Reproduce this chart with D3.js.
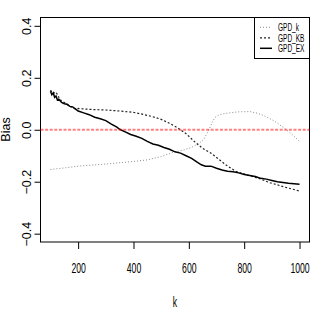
<!DOCTYPE html>
<html>
<head>
<meta charset="utf-8">
<script src="https://cdn.jsdelivr.net/npm/d3@7"></script>
<style>
  body { margin: 0; background: #fff; }
  text { font-family: "Liberation Sans", Arial, sans-serif; fill: #000; }
</style>
</head>
<body>
<svg id="chart"></svg>
<script>
// values
const kEX = [100,105,110,115,120,125,130,140,150,160,170,180,190,200,220,240,260,280,300,320,340,350,370,390,410,430,450,470,490,510,530,550,570,590,610,630,645,660,680,700,720,740,760,780,800,820,840,860,880,900,920,940,960,980,1000];
const biasEX = [0.148,0.135,0.142,0.125,0.13,0.115,0.118,0.105,0.1,0.098,0.09,0.088,0.08,0.072,0.065,0.058,0.048,0.042,0.035,0.022,0.01,0.002,-0.008,-0.018,-0.025,-0.033,-0.045,-0.055,-0.06,-0.068,-0.075,-0.085,-0.09,-0.1,-0.11,-0.125,-0.135,-0.14,-0.14,-0.148,-0.155,-0.16,-0.162,-0.166,-0.172,-0.176,-0.18,-0.187,-0.19,-0.195,-0.2,-0.203,-0.206,-0.208,-0.21];

const kKB = [100,110,120,130,140,150,160,170,180,190,200,220,250,300,350,400,440,470,500,530,560,590,620,650,680,710,740,770,800,830,860,890,920,950,980,1000];
const biasKB = [0.152,0.14,0.145,0.125,0.11,0.105,0.098,0.09,0.085,0.08,0.082,0.08,0.078,0.076,0.072,0.067,0.058,0.05,0.04,0.025,0.007,-0.015,-0.045,-0.072,-0.09,-0.115,-0.14,-0.16,-0.17,-0.18,-0.19,-0.203,-0.212,-0.222,-0.23,-0.236];

const kK = [100,150,200,300,400,450,500,540,580,610,640,655,665,675,685,695,710,740,780,820,850,880,910,940,970,1000];
const biasK = [-0.153,-0.147,-0.14,-0.132,-0.122,-0.116,-0.103,-0.088,-0.078,-0.068,-0.05,-0.035,-0.015,0.005,0.03,0.048,0.058,0.064,0.069,0.07,0.063,0.05,0.033,0.01,-0.015,-0.045];

const xTicks = [200, 400, 600, 800, 1000];
const yTicks = [-0.4, -0.2, 0, 0.2, 0.4];
const legendNames = ["GPD_k", "GPD_KB", "GPD_EX"];

const width = 320, height = 327;
const svg = d3.select("#chart").attr("width", width).attr("height", height);

// R style: domain padded by 4%
const x = d3.scaleLinear().domain([64, 1036]).range([40.5, 309.5]);
const y = d3.scaleLinear().domain([-0.432, 0.432]).range([242, 17.5]);

// plot box
svg.append("rect")
  .attr("x", x.range()[0]).attr("y", y.range()[1])
  .attr("width", x.range()[1] - x.range()[0])
  .attr("height", y.range()[0] - y.range()[1])
  .attr("fill", "none").attr("stroke", "#000").attr("stroke-width", 1);

// x axis
const gx = svg.append("g")
  .attr("transform", `translate(0,${y.range()[0]})`)
  .call(d3.axisBottom(x).tickValues(xTicks).tickSize(7).tickPadding(0).tickFormat(d3.format("d")));
gx.select(".domain").remove();
gx.selectAll("text")
  .attr("y", 31).attr("dy", null)
  .attr("font-size", 14)
  .attr("transform", "scale(0.62,1)")
  .attr("fill", "#000");

// y axis
const gy = svg.append("g")
  .attr("transform", `translate(${x.range()[0]},0)`)
  .call(d3.axisLeft(y).tickValues(yTicks).tickSize(6).tickFormat(d3.format(".1f")));
gy.select(".domain").remove();
gy.selectAll("text")
  .attr("x", 0).attr("y", -10).attr("dy", null)
  .attr("text-anchor", "middle")
  .attr("transform", "rotate(-90)")
  .attr("font-size", 12.5)
  .attr("fill", "#000");

// axis titles
svg.append("text")
  .attr("transform", "translate(175,306.5) scale(0.62,1)")
  .attr("text-anchor", "middle").attr("font-size", 14).attr("fill", "#000").text("k");
svg.append("text")
  .attr("transform", "translate(9.5,129.5) rotate(-90)")
  .attr("text-anchor", "middle").attr("font-size", 12.5).attr("fill", "#000").text("Bias");

const line = d3.line().x(d => x(d[0])).y(d => y(d[1]));
const zip = (a, b) => a.map((v, i) => [v, b[i]]);

const styles = [
  { stroke: "#8c8c8c", width: 1, dash: "1,2" },
  { stroke: "#222", width: 1.2, dash: "2,2" },
  { stroke: "#000", width: 1.5, dash: null }
];
const series = [zip(kK, biasK), zip(kKB, biasKB), zip(kEX, biasEX)];

series.forEach((s, i) => {
  svg.append("path")
    .datum(s)
    .attr("d", line)
    .attr("fill", "none")
    .attr("stroke", styles[i].stroke)
    .attr("stroke-width", styles[i].width)
    .attr("stroke-dasharray", styles[i].dash);
});

// zero reference line
svg.append("line")
  .attr("x1", x.range()[0]).attr("x2", x.range()[1])
  .attr("y1", y(0)).attr("y2", y(0))
  .attr("stroke", "#ff0000").attr("stroke-opacity", 0.5)
  .attr("stroke-width", 2).attr("stroke-dasharray", "3,1.6");

// legend
const lg = svg.append("g");
lg.append("rect")
  .attr("x", 254.5).attr("y", y.range()[1])
  .attr("width", x.range()[1] - 254.5).attr("height", 58.5 - y.range()[1])
  .attr("fill", "#fff").attr("stroke", "#000");
legendNames.forEach((name, i) => {
  const ly = 27.3 + i * 10.5;
  lg.append("line")
    .attr("x1", 260).attr("x2", 272).attr("y1", ly).attr("y2", ly)
    .attr("stroke", styles[i].stroke).attr("stroke-width", styles[i].width)
    .attr("stroke-dasharray", styles[i].dash);
  lg.append("text")
    .attr("transform", `translate(278,${ly + 3.8}) scale(0.62,1)`)
    .attr("font-size", 10.5).attr("fill", "#000").text(name);
});
</script>
</body>
</html>
